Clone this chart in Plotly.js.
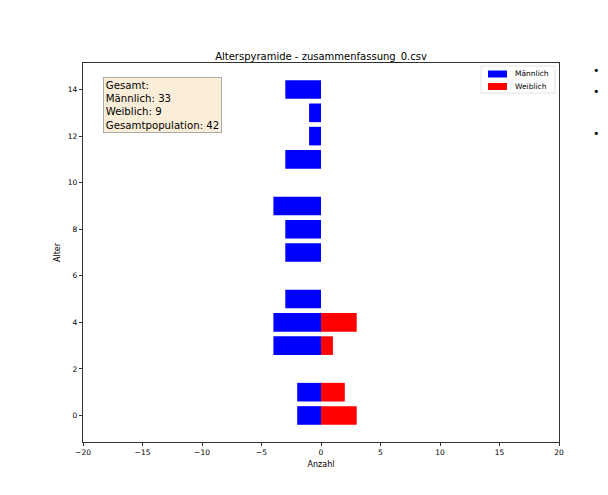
<!DOCTYPE html>
<html>
<head>
<meta charset="utf-8">
<script src="https://cdn.plot.ly/plotly-3.0.1.min.js"></script>
<style>html,body{margin:0;padding:0;background:#fff;}#chart{width:608px;height:495px;}</style>
</head>
<body>
<div id="chart"></div>
<script>
const ages = [0, 1, 3, 4, 5, 7, 8, 9, 11, 12, 13, 14];
const maleCounts = [2, 2, 4, 4, 3, 3, 3, 4, 3, 1, 1, 3];
const femaleAges = [0, 1, 3, 4];
const femaleCounts = [3, 2, 1, 3];
const xTicks = [-20, -15, -10, -5, 0, 5, 10, 15, 20];
const yTicks = [0, 2, 4, 6, 8, 10, 12, 14];
const seriesNames = ['Männlich', 'Weiblich'];
const seriesColors = ['#0000ff', '#ff0000'];
const titleText = 'Alterspyramide - zusammenfassung_0.csv';
const totalMale = maleCounts.reduce((a, b) => a + b, 0);
const totalFemale = femaleCounts.reduce((a, b) => a + b, 0);

const font = 'DejaVu Sans, sans-serif';
const fmt = v => (v < 0 ? '\u2212' + Math.abs(v) : String(v));

const traces = [
  {type: 'bar', orientation: 'h', name: seriesNames[0], y: ages, x: maleCounts.map(v => -v),
   width: 0.8, marker: {color: seriesColors[0], line: {width: 0}}, hoverinfo: 'none', showlegend: false},
  {type: 'bar', orientation: 'h', name: seriesNames[1], y: femaleAges, x: femaleCounts,
   width: 0.8, marker: {color: seriesColors[1], line: {width: 0}}, hoverinfo: 'none', showlegend: false}
];

// compact matplotlib-style legend drawn in paper coordinates
const pw = 476, ph = 379;
const px = v => v / pw, py = v => v / ph;
const legShapes = [
  {type: 'rect', xref: 'paper', yref: 'paper', x0: 1 - px(78), x1: 1 - px(4), y0: 1 - py(30), y1: 1 - py(3),
   line: {color: '#dddddd', width: 0.8}, fillcolor: 'rgba(255,255,255,0.8)', layer: 'above'}
];
const legAnns = [];
seriesNames.forEach((n, i) => {
  const yc = 1 - py(11 + i * 12.5);
  legShapes.push({type: 'rect', xref: 'paper', yref: 'paper', x0: 1 - px(71), x1: 1 - px(52),
    y0: yc - py(3.5), y1: yc + py(3.5), line: {width: 0}, fillcolor: seriesColors[i], layer: 'above'});
  legAnns.push({xref: 'paper', yref: 'paper', x: 1 - px(46), y: yc, xanchor: 'left', yanchor: 'middle',
    text: n, showarrow: false, font: {size: 7.5, color: '#000'}});
});

const layout = {
  width: 608, height: 495,
  margin: {l: 83, r: 49, t: 63, b: 53},
  paper_bgcolor: '#fff', plot_bgcolor: '#fff',
  barmode: 'relative',
  showlegend: false,
  font: {family: font, size: 8, color: '#000'},
  title: {text: titleText, font: {family: font, size: 10, color: '#000'},
          x: 0.5, xref: 'paper', xanchor: 'center', y: 1, yref: 'paper', yanchor: 'bottom', pad: {b: 3}},
  xaxis: {range: [-20, 20], tickvals: xTicks, ticktext: xTicks.map(fmt), ticks: 'outside', ticklen: 3.5,
          tickwidth: 0.8, tickcolor: '#000', showline: true, linecolor: '#000', linewidth: 0.8, mirror: true,
          showgrid: false, zeroline: false, tickfont: {size: 7.5},
          title: {text: 'Anzahl', font: {size: 8}, standoff: 5}},
  yaxis: {range: [-1.14, 15.14], tickvals: yTicks, ticktext: yTicks.map(fmt), ticks: 'outside', ticklen: 3.5,
          tickwidth: 0.8, tickcolor: '#000', showline: true, linecolor: '#000', linewidth: 0.8, mirror: true,
          showgrid: false, zeroline: false, tickfont: {size: 7.5},
          title: {text: 'Alter', font: {size: 8}, standoff: 5}},
  shapes: legShapes,
  annotations: legAnns.concat([
    {xref: 'paper', yref: 'paper', x: 0.042, y: 0.962, xanchor: 'left', yanchor: 'top', align: 'left',
     text: 'Gesamt:<br>Männlich: ' + totalMale + '<br>Weiblich: ' + totalFemale + '<br>Gesamtpopulation: ' + (totalMale + totalFemale),
     showarrow: false, font: {size: 10.2, color: '#000'}, bgcolor: 'rgba(245,222,179,0.5)',
     bordercolor: '#999', borderwidth: 0.8, borderpad: 2},
    {xref: 'paper', yref: 'paper', x: 1.09, y: 1.002, text: '•', showarrow: false, font: {size: 11, color: '#000'}},
    {xref: 'paper', yref: 'paper', x: 1.09, y: 0.947, text: '•', showarrow: false, font: {size: 11, color: '#000'}},
    {xref: 'paper', yref: 'paper', x: 1.09, y: 0.836, text: '•', showarrow: false, font: {size: 11, color: '#000'}}
  ])
};

Plotly.newPlot('chart', traces, layout, {staticPlot: true, displayModeBar: false});
</script>
</body>
</html>
